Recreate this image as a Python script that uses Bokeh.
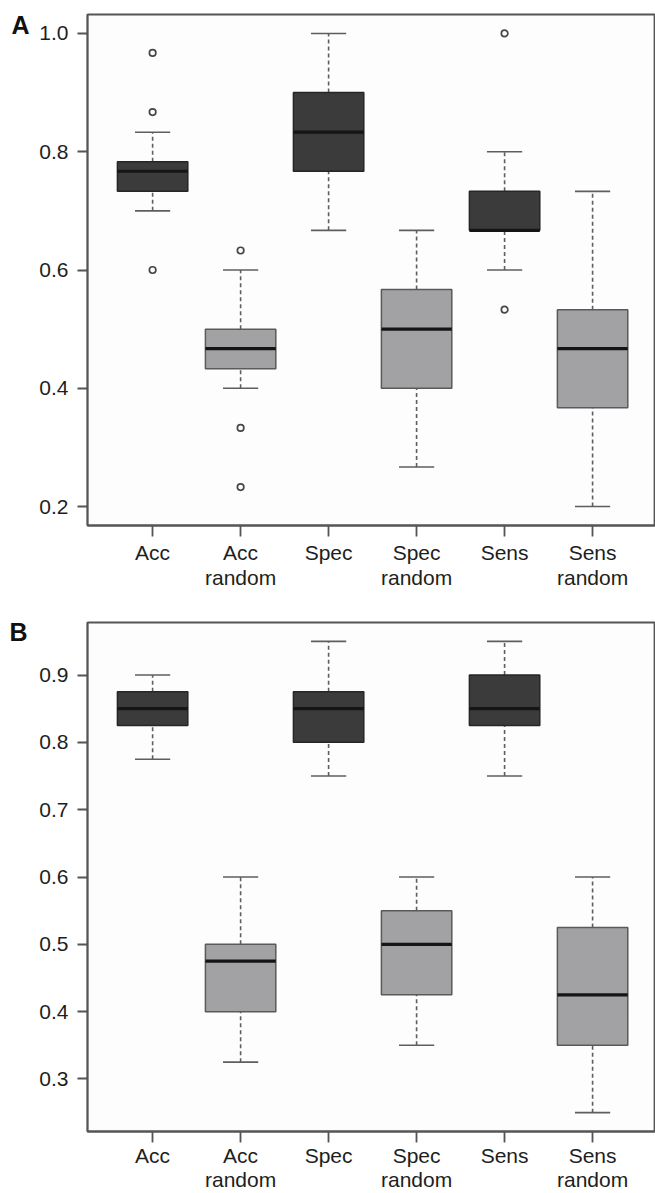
from bokeh.plotting import figure
from bokeh.layouts import column
from bokeh.models import FixedTicker, PrintfTickFormatter, LinearAxis
from bokeh.embed import file_html
from bokeh.resources import INLINE

# ---------------- data ----------------
categories = ["Acc", "Acc random", "Spec", "Spec random", "Sens", "Sens random"]
is_random = [False, True, False, True, False, True]

# Panel A
a_low = [0.700, 0.400, 0.667, 0.267, 0.600, 0.200]
a_q1 = [0.733, 0.433, 0.767, 0.400, 0.667, 0.367]
a_median = [0.767, 0.467, 0.833, 0.500, 0.667, 0.467]
a_q3 = [0.783, 0.500, 0.900, 0.567, 0.733, 0.533]
a_high = [0.833, 0.600, 1.000, 0.667, 0.800, 0.733]
a_outliers = [[0.967, 0.867, 0.600], [0.633, 0.333, 0.233], [], [], [1.000, 0.533], []]
a_yticks = [0.2, 0.4, 0.6, 0.8, 1.0]

# Panel B
b_low = [0.775, 0.325, 0.750, 0.350, 0.750, 0.250]
b_q1 = [0.825, 0.400, 0.800, 0.425, 0.825, 0.350]
b_median = [0.850, 0.475, 0.850, 0.500, 0.850, 0.425]
b_q3 = [0.875, 0.500, 0.875, 0.550, 0.900, 0.525]
b_high = [0.900, 0.600, 0.950, 0.600, 0.950, 0.600]
b_outliers = [[], [], [], [], [], []]
b_yticks = [0.3, 0.4, 0.5, 0.6, 0.7, 0.8, 0.9]

# ---------------- styling ----------------
FONT = "Liberation Sans"
AXIS_COL = "#555555"
DARK_FILL, DARK_LINE = "#3b3b3b", "#262626"
LIGHT_FILL, LIGHT_LINE = "#a2a2a4", "#5a5a5a"
WHISK_COL = "#5e5e5e"
MED_COL = "#151515"
W = 655


def panel(letter, low, q1, med, q3, high, outliers, yticks, y_range,
          height, top, bottom, letter_standoff, letter_y,
          x_standoff, x_line_height):
    p = figure(width=W, height=height, x_range=(0.26, 6.715), y_range=y_range,
               output_backend="svg", toolbar_location=None,
               min_border_left=87, min_border_right=0,
               min_border_top=top, min_border_bottom=bottom)
    p.background_fill_color = "#fdfdfd"
    p.border_fill_color = "white"
    p.outline_line_color = AXIS_COL
    p.outline_line_width = 1.8
    p.grid.visible = False

    xs = list(range(1, len(categories) + 1))
    fills = [LIGHT_FILL if r else DARK_FILL for r in is_random]
    lines = [LIGHT_LINE if r else DARK_LINE for r in is_random]
    bw = 0.8
    cw = 0.4

    # whiskers (dashed) and caps
    p.segment(x0=xs, y0=q3, x1=xs, y1=high, line_color=WHISK_COL,
              line_width=1.6, line_dash="4 3")
    p.segment(x0=xs, y0=low, x1=xs, y1=q1, line_color=WHISK_COL,
              line_width=1.6, line_dash="4 3")
    p.segment(x0=[x - cw / 2 for x in xs], y0=high, x1=[x + cw / 2 for x in xs], y1=high,
              line_color=WHISK_COL, line_width=1.6)
    p.segment(x0=[x - cw / 2 for x in xs], y0=low, x1=[x + cw / 2 for x in xs], y1=low,
              line_color=WHISK_COL, line_width=1.6)
    # boxes
    p.vbar(x=xs, bottom=q1, top=q3, width=bw, fill_color=fills, line_color=lines,
           line_width=1.5)
    # medians
    p.segment(x0=[x - bw / 2 for x in xs], y0=med, x1=[x + bw / 2 for x in xs], y1=med,
              line_color=MED_COL, line_width=3.2)
    # outliers
    ox, oy = [], []
    for x, vals in zip(xs, outliers):
        for v in vals:
            ox.append(x)
            oy.append(v)
    if ox:
        p.scatter(ox, oy, marker="circle", size=6.5, fill_color=None,
                  line_color="#474747", line_width=1.7)

    # axes
    p.xaxis.ticker = FixedTicker(ticks=xs)
    p.xaxis.major_label_overrides = {x: c.replace(" ", "\n") for x, c in zip(xs, categories)}
    p.yaxis.ticker = FixedTicker(ticks=yticks)
    p.yaxis.formatter = PrintfTickFormatter(format="%.1f")
    for ax in (p.xaxis, p.yaxis):
        ax.axis_line_color = AXIS_COL
        ax.axis_line_width = 1.8
        ax.major_tick_line_color = AXIS_COL
        ax.major_tick_line_width = 1.8
        ax.minor_tick_line_color = None
        ax.major_tick_in = 0
        ax.major_label_text_font = FONT
        ax.major_label_text_font_size = "21px"
        ax.major_label_text_color = "#1e1e1e"
    p.yaxis.major_tick_out = 10
    p.yaxis.major_label_standoff = 9
    p.xaxis.major_tick_out = 11
    p.xaxis.major_label_standoff = x_standoff
    p.xaxis.major_label_text_line_height = x_line_height

    # panel letter, drawn as the single label of an extra left axis
    extra = LinearAxis(ticker=FixedTicker(ticks=[letter_y]),
                       major_label_overrides={letter_y: letter})
    extra.axis_line_color = None
    extra.major_tick_line_color = None
    extra.minor_tick_line_color = None
    extra.major_tick_out = 0
    extra.major_tick_in = 0
    extra.major_label_standoff = letter_standoff
    extra.major_label_text_font = FONT
    extra.major_label_text_font_style = "bold"
    extra.major_label_text_font_size = "25px"
    extra.major_label_text_color = "#111111"
    p.add_layout(extra, "left")
    return p


# Panel A frame: 14..525 ; Panel B frame: 622..1132
pA = panel("A", a_low, a_q1, a_median, a_q3, a_high, a_outliers, a_yticks,
           (0.168, 1.032), height=600, top=14, bottom=75,
           letter_standoff=7, letter_y=1.015, x_standoff=4, x_line_height=1.1)
pB = panel("B", b_low, b_q1, b_median, b_q3, b_high, b_outliers, b_yticks,
           (0.222, 0.978), height=593, top=22, bottom=60,
           letter_standoff=9, letter_y=0.9635, x_standoff=1, x_line_height=1.05)

layout = column(pA, pB, spacing=0)
open("out.html", "w").write(file_html(layout, INLINE))
